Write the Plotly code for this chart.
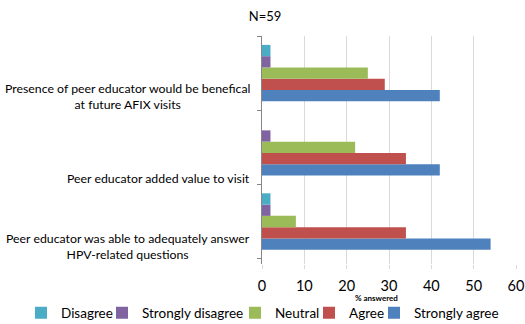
import plotly.graph_objects as go

categories = [
    "Peer educator was able to adequately answer<br>HPV-related questions",
    "Peer educator added value to visit",
    "Presence of peer educator would be benefical<br>at future AFIX visits",
]
series_names = ["Disagree", "Strongly disagree", "Neutral", "Agree", "Strongly agree"]
disagree = [2, 0, 2]
strongly_disagree = [2, 2, 2]
neutral = [8, 22, 25]
agree = [34, 34, 29]
strongly_agree = [54, 42, 42]
colors = ["#4BACC6", "#8064A2", "#9BBB59", "#C0504D", "#4F81BD"]
x_ticks = [0, 10, 20, 30, 40, 50, 60]

values = [disagree, strongly_disagree, neutral, agree, strongly_agree]
legend_ids = ["legend", "legend2", "legend3", "legend4", "legend5"]
legend_x_px = [21, 102, 235, 309, 374]
label_yshift = [-25, -31, -23]

W, H = 525, 324
ML, MR, MT, MB = 262, 9, 36, 60
PW, PH = W - ML - MR, H - MT - MB
FONT = "Lato"


def px_x(px):
    return (px - ML) / PW


def px_y(py):
    return (H - MB - py) / PH


fig = go.Figure()
# add in reverse so that "Strongly agree" sits at the bottom of each group
for i in reversed(range(5)):
    fig.add_trace(go.Bar(
        y=categories, x=values[i], name=series_names[i], orientation="h",
        marker=dict(color=colors[i], line=dict(width=0)),
        legend=legend_ids[i],
    ))

layout_legends = {}
for i, lid in enumerate(legend_ids):
    layout_legends[lid] = dict(
        xref="paper", yref="paper",
        x=px_x(legend_x_px[i]), y=px_y(313),
        xanchor="left", yanchor="middle",
        orientation="h", itemwidth=30,
        font=dict(family=FONT, size=13.5, color="#000"),
        bgcolor="rgba(0,0,0,0)", borderwidth=0,
        itemclick=False,
    )

annotations = []
for c, ys in zip(categories, label_yshift):
    annotations.append(dict(
        x=0, xref="paper", y=c, yref="y",
        text=c, showarrow=False, align="center",
        xanchor="right", yanchor="middle",
        xshift=-10, yshift=ys,
        font=dict(family=FONT, size=12.3, color="#000"),
    ))
annotations.append(dict(
    x=px_x(376), xref="paper", y=px_y(297.5), yref="paper",
    text="<b>% answered</b>", showarrow=False,
    xanchor="center", yanchor="middle",
    font=dict(family=FONT, size=8, color="#000"),
))

fig.update_layout(
    width=W, height=H,
    margin=dict(l=ML, r=MR, t=MT, b=MB, autoexpand=False),
    paper_bgcolor="white", plot_bgcolor="white",
    barmode="group", bargap=0.24, bargroupgap=0,
    title=dict(text="N=59", x=0.505, xref="container", xanchor="center",
               y=1 - 16 / H, yref="container", yanchor="middle",
               font=dict(family=FONT, size=13, color="#000")),
    xaxis=dict(range=[0, 60], tickvals=x_ticks, showgrid=True,
               gridcolor="#d9d9d9", gridwidth=1, zeroline=False,
               ticks="outside", ticklen=4, tickcolor="#d9d9d9",
               tickfont=dict(family=FONT, size=14.5, color="#000"),
               showline=False, ticklabelstandoff=5, automargin=False),
    yaxis=dict(showticklabels=False, ticks="outside", ticklen=4,
               tickson="boundaries", tickcolor="#868686",
               showline=True, linecolor="#868686", linewidth=1,
               showgrid=False, zeroline=False, automargin=False),
    annotations=annotations,
    showlegend=True,
    **layout_legends,
)

fig.write_html("out.html")
